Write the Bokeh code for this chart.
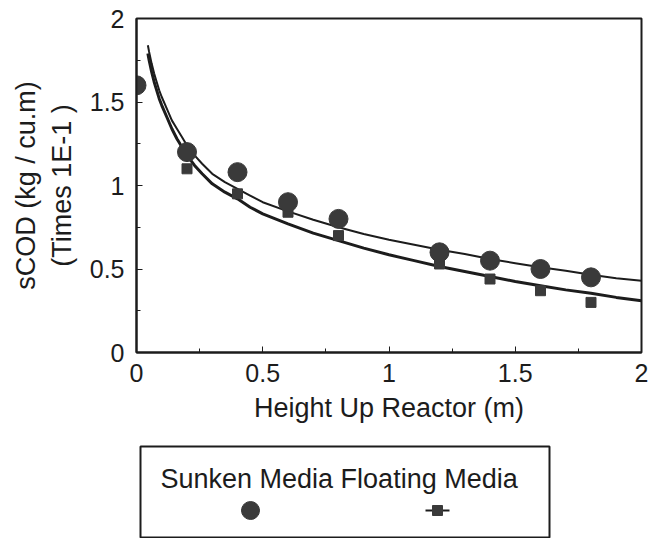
from bokeh.plotting import figure
from bokeh.layouts import column
from bokeh.models import Range1d, FixedTicker
from bokeh.core.properties import value
from bokeh.embed import file_html
from bokeh.resources import INLINE

# ---- data ----
sunken_x = [0.0, 0.2, 0.4, 0.6, 0.8, 1.2, 1.4, 1.6, 1.8]
sunken_y = [1.60, 1.20, 1.08, 0.90, 0.80, 0.60, 0.55, 0.50, 0.45]
floating_x = [0.2, 0.4, 0.6, 0.8, 1.2, 1.4, 1.6, 1.8]
floating_y = [1.10, 0.95, 0.84, 0.70, 0.53, 0.44, 0.37, 0.30]

# fitted curves
fit_x = [0.045, 0.05, 0.06, 0.07, 0.08, 0.09, 0.10, 0.12, 0.14, 0.16, 0.18, 0.20,
         0.23, 0.26, 0.30, 0.35, 0.40, 0.45, 0.50, 0.60, 0.70, 0.80, 0.90, 1.00,
         1.10, 1.20, 1.30, 1.40, 1.50, 1.60, 1.70, 1.80, 1.90, 2.00]
sunken_fit = [1.84, 1.80, 1.73, 1.67, 1.62, 1.57, 1.53, 1.46, 1.39, 1.34, 1.29, 1.24,
              1.18, 1.13, 1.07, 1.02, 0.98, 0.94, 0.90, 0.845, 0.795, 0.75, 0.71, 0.675,
              0.645, 0.615, 0.59, 0.56, 0.535, 0.51, 0.49, 0.465, 0.445, 0.43]
floating_fit = [1.79, 1.75, 1.68, 1.62, 1.57, 1.52, 1.48, 1.41, 1.34, 1.28, 1.23, 1.18,
                1.12, 1.07, 1.01, 0.96, 0.92, 0.87, 0.83, 0.77, 0.715, 0.67, 0.625, 0.585,
                0.55, 0.515, 0.485, 0.455, 0.425, 0.40, 0.375, 0.355, 0.33, 0.31]

tick_vals = [0, 0.5, 1, 1.5, 2]
tick_labels = ["0", "0.5", "1", "1.5", "2"]
minor_vals = [0.25, 0.75, 1.25, 1.75]

x_title = "Height Up Reactor (m)"
y_title = "sCOD (kg / cu.m)\n(Times 1E-1 )"
legend_labels = ["Sunken Media", "Floating Media"]

FONT = "Liberation Sans"
INK = "#1c1c1c"
MARK = "#3a3a3a"

p = figure(width=651, height=436, output_backend="svg", toolbar_location=None,
           x_range=Range1d(0, 2), y_range=Range1d(0, 2),
           min_border_left=136, min_border_right=10, min_border_top=18,
           min_border_bottom=84)
p.grid.visible = False
p.outline_line_color = INK
p.outline_line_width = 2
p.background_fill_color = "white"
p.border_fill_color = "white"

for ax in (p.xaxis[0], p.yaxis[0]):
    ax.ticker = FixedTicker(ticks=tick_vals, minor_ticks=minor_vals)
    ax.major_label_overrides = {v: l for v, l in zip(tick_vals, tick_labels)}
    ax.major_label_text_font = FONT
    ax.major_label_text_font_size = "25px"
    ax.major_label_text_color = INK
    ax.axis_label_text_font = FONT
    ax.axis_label_text_font_size = "27px"
    ax.axis_label_text_font_style = "normal"
    ax.axis_label_text_color = INK
    ax.axis_line_color = INK
    ax.axis_line_width = 2
    ax.major_tick_in = 6
    ax.major_tick_out = 0
    ax.minor_tick_in = 4
    ax.minor_tick_out = 0
    ax.major_tick_line_color = INK
    ax.minor_tick_line_color = INK

p.xaxis.axis_label = x_title
p.yaxis.axis_label = y_title
p.xaxis.major_label_standoff = 11
p.yaxis.major_label_standoff = 12
p.xaxis.axis_label_standoff = 8
p.yaxis.axis_label_standoff = 10

p.line(fit_x, sunken_fit, line_color=INK, line_width=2)
p.line(fit_x, floating_fit, line_color=INK, line_width=3)
p.scatter(floating_x, floating_y, marker="square", size=10, fill_color=MARK,
          line_color=MARK)
p.scatter(sunken_x, sunken_y, marker="circle", size=19, fill_color=MARK,
          line_color=MARK)

# ---- legend panel (text above marker, as in the reference) ----
# its frame is aligned with the main frame by the column layout; ranges in page px
L = figure(width=651, height=102, output_backend="svg", toolbar_location=None,
           x_range=Range1d(136, 641), y_range=Range1d(538, 436),
           min_border_left=136, min_border_right=10,
           min_border_top=0, min_border_bottom=0)
L.axis.visible = False
L.grid.visible = False
L.outline_line_color = None
L.background_fill_color = "white"
L.border_fill_color = "white"

L.quad(left=[140], right=[549], bottom=[537], top=[446], fill_color="white",
       line_color=INK, line_width=2)
L.text(x=[160], y=[478], text=[" ".join(legend_labels)], text_font=value(FONT),
       text_font_size="27px", text_color=INK, text_baseline="alphabetic",
       text_align="left")
L.segment(x0=[241, 425], y0=[510, 510], x1=[259, 449], y1=[510, 510],
          line_color=INK, line_width=2)
L.scatter(x=[250], y=[510], marker="circle", size=18, fill_color=MARK, line_color=MARK)
L.scatter(x=[437], y=[510], marker="square", size=10, fill_color=MARK, line_color=MARK)

layout = column(p, L, spacing=0)
open("out.html", "w").write(file_html(layout, INLINE))
